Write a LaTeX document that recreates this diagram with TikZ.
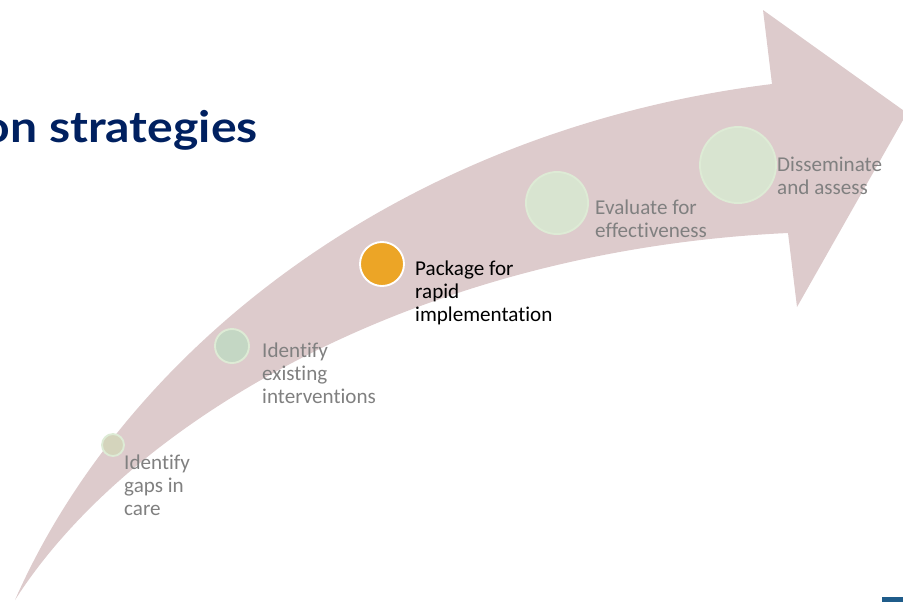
\documentclass[tikz,border=0pt]{standalone}
\usepackage{fontspec}
\setmainfont{Carlito}[Ligatures=NoCommon]
\newfontfamily\titlefont{Lato}[FakeStretch=1.11]
\usetikzlibrary{positioning}
\definecolor{banda}{RGB}{221,203,204}
\definecolor{titulo}{RGB}{0,32,96}
\definecolor{gris}{RGB}{128,128,128}
\definecolor{naranja}{RGB}{236,165,38}
\definecolor{olivo}{RGB}{212,212,188}
\definecolor{salvia}{RGB}{196,215,196}
\definecolor{menta}{RGB}{216,228,208}
\definecolor{borde}{RGB}{221,235,213}
\definecolor{marca}{RGB}{31,92,138}
\newcommand{\pxu}{0.03cm}

\begin{document}
\begin{tikzpicture}[x=\pxu, y=-\pxu,
dot/.style={circle, draw=borde, line width=1.6pt, inner sep=0pt},
stage/.style={anchor=base west, align=left, inner sep=0pt, text=gris, font=\fontsize{18}{19.6}\selectfont},
]
\useasboundingbox (0,0) rectangle (903,602);

%Arrow
\fill[banda] (15,600) .. controls (125,350) and (400,130) .. (772,84) -- (763,10) -- (907,113)
  -- (797,307) -- (788,233) .. controls (420,250) and (130,420) .. cycle;

%Title
\node[anchor=base east, inner sep=0pt, text=titulo, font=\titlefont\bfseries\fontsize{37}{40}\selectfont] (titulo) at (258,142) {on strategies};

%Nodes
\node[dot, fill=olivo,   minimum size=22*\pxu]            (dot_1) at (113,445) {};
\node[dot, fill=salvia,  minimum size=34*\pxu]            (dot_2) at (232,346) {};
\node[dot, fill=naranja, minimum size=44*\pxu, draw=white] (dot_3) at (382,264) {};
\node[dot, fill=menta,   minimum size=62*\pxu]            (dot_4) at (557,203) {};
\node[dot, fill=menta,   minimum size=76*\pxu]            (dot_5) at (738,165) {};

%Labels (anchored at the last line)
\node[stage]              (gaps)        at (124,515) {Identify\\gaps in\\care};
\node[stage]              (existing)    at (262,403) {Identify\\existing\\interventions};
\node[stage, text=black]  (package)     at (415,321) {Package for\\rapid\\implementation};
\node[stage]              (evaluate)    at (595,237) {Evaluate for\\effectiveness};
\node[stage]              (disseminate) at (777,194) {Disseminate\\and assess};

%Corner mark
\fill[marca] (882,597) rectangle (903,602);

\end{tikzpicture}
\end{document}
